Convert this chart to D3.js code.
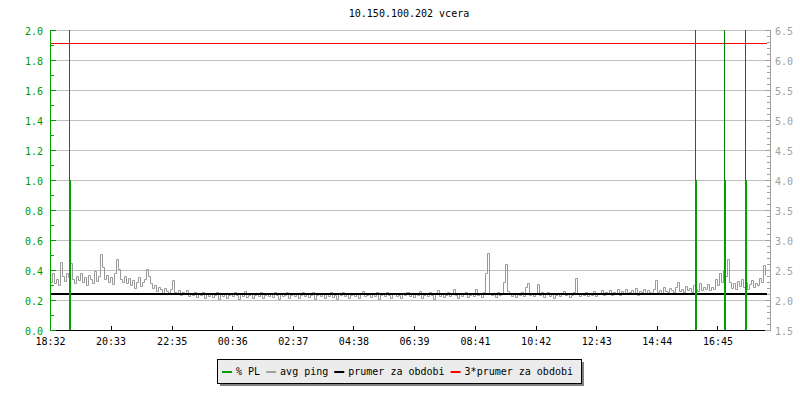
<!DOCTYPE html>
<html>
<head>
<meta charset="utf-8">
<script src="https://cdn.jsdelivr.net/npm/d3@7"></script>
<style>
  html, body { margin: 0; padding: 0; background: #ffffff; }
  svg { display: block; }
  text { font-family: "DejaVu Sans Mono", monospace; font-size: 10px; }
</style>
</head>
<body>
<svg id="chart" width="800" height="400"></svg>
<script>
// ---------------- DATA ----------------
const chartTitle = "10.150.100.202 vcera";
// x axis: minutes since 18:32 and their labels
const xTickMinutes = [0, 121, 243, 364, 485, 606, 727, 849, 970, 1091, 1212, 1333];
const xTickLabels = ["18:32","20:33","22:35","00:36","02:37","04:38","06:39","08:41","10:42","12:43","14:44","16:45"];
const timeSpanMin = 1430;
// left axis (% PL)
const leftTicks = [0.0, 0.2, 0.4, 0.6, 0.8, 1.0, 1.2, 1.4, 1.6, 1.8, 2.0];
// right axis (ping, ms)
const rightTicks = [1.5, 2.0, 2.5, 3.0, 3.5, 4.0, 4.5, 5.0, 5.5, 6.0, 6.5];
// avg ping samples (ms), one every 4 minutes from 18:32
const pingStepMin = 4;
const pingValues = [
  2.30,2.45,2.28,2.35,2.25,2.63,2.40,2.32,2.45,2.38,
  2.62,2.35,2.28,2.40,2.33,2.45,2.30,2.38,2.25,2.42,
  2.35,2.28,2.48,2.32,2.40,2.77,2.55,2.35,2.42,2.30,
  2.38,2.26,2.45,2.68,2.52,2.35,2.30,2.40,2.28,2.36,
  2.25,2.33,2.20,2.30,2.38,2.24,2.30,2.35,2.52,2.40,
  2.28,2.20,2.25,2.15,2.22,2.18,2.12,2.20,2.15,2.10,
  2.18,2.33,2.14,2.10,2.16,2.08,2.13,2.10,2.17,2.06,
  2.12,2.09,2.14,2.05,2.11,2.08,2.13,2.03,2.10,2.07,
  2.12,2.05,2.09,2.14,2.02,2.10,2.07,2.12,2.04,2.09,
  2.11,2.06,2.13,2.08,2.01,2.10,2.07,2.15,2.05,2.09,
  2.12,2.04,2.08,2.11,2.06,2.14,2.03,2.09,2.12,2.07,
  2.10,2.05,2.13,2.08,2.02,2.11,2.06,2.09,2.14,2.04,
  2.08,2.12,2.06,2.10,2.03,2.09,2.13,2.07,2.11,2.05,
  2.09,2.14,2.02,2.08,2.11,2.06,2.12,2.04,2.10,2.07,
  2.13,2.05,2.09,2.01,2.11,2.08,2.14,2.06,2.10,2.03,
  2.09,2.12,2.07,2.11,2.04,2.10,2.15,2.06,2.08,2.12,
  2.05,2.10,2.07,2.13,2.02,2.09,2.11,2.06,2.14,2.08,
  2.04,2.10,2.12,2.07,2.09,2.03,2.11,2.08,2.13,2.06,
  2.10,2.05,2.12,2.08,2.15,2.04,2.09,2.11,2.06,2.13,
  2.08,2.02,2.10,2.17,2.07,2.11,2.05,2.09,2.13,2.06,
  2.10,2.19,2.08,2.04,2.12,2.07,2.10,2.14,2.05,2.09,
  2.12,2.06,2.18,2.08,2.11,2.05,2.13,2.45,2.79,2.12,
  2.08,2.11,2.05,2.14,2.09,2.12,2.30,2.60,2.15,2.10,
  2.07,2.12,2.05,2.10,2.08,2.13,2.06,2.22,2.28,2.09,
  2.11,2.06,2.12,2.27,2.08,2.14,2.05,2.10,2.13,2.07,
  2.11,2.04,2.09,2.12,2.06,2.10,2.15,2.08,2.12,2.05,
  2.09,2.13,2.37,2.10,2.06,2.12,2.08,2.14,2.07,2.11,
  2.09,2.15,2.06,2.12,2.10,2.16,2.08,2.13,2.11,2.17,
  2.09,2.14,2.12,2.18,2.08,2.15,2.11,2.19,2.10,2.14,
  2.16,2.12,2.20,2.09,2.15,2.13,2.18,2.11,2.17,2.14,
  2.12,2.19,2.33,2.14,2.17,2.11,2.22,2.15,2.13,2.20,
  2.16,2.14,2.21,2.30,2.15,2.18,2.13,2.23,2.16,2.20,
  2.14,2.25,2.18,2.15,2.28,2.17,2.22,2.19,2.26,2.16,
  2.21,2.18,2.35,2.25,2.45,2.30,2.50,2.40,2.68,2.30,
  2.20,2.28,2.18,2.32,2.24,2.35,2.22,2.30,2.19,2.27,
  2.33,2.21,2.29,2.25,2.36,2.30,2.58,2.42
];
// packet loss events (minutes since 18:32, % PL)
const plTimes = [40, 1290, 1348, 1390];
const plValues = [1.0, 1.0, 1.0, 1.0];
// average ping over the period (ms)
const avgPing = 2.097;
const legendLabels = ["% PL", "avg ping", "prumer za obdobi", "3*prumer za obdobi"];
const legendColors = ["#00a000", "#a0a0a0", "#000000", "#ff0000"];

// ---------------- LAYOUT ----------------
const plotL = 50, plotR = 766, plotT = 30, plotB = 330;
const svg = d3.select("#chart");

const x = d3.scaleLinear().domain([0, timeSpanMin]).range([plotL + 0.5, plotR + 0.5]);
const yL = d3.scaleLinear().domain([0, 2]).range([plotB + 0.5, plotT + 0.5]);
const yR = d3.scaleLinear().domain([1.5, 6.5]).range([plotB + 0.5, plotT + 0.5]);
const px = v => Math.floor(v);   // pixel row/column of a scaled value

// clip
svg.append("defs").append("clipPath").attr("id", "clip")
  .append("rect").attr("x", plotL).attr("y", plotT - 2).attr("width", plotR - plotL + 1).attr("height", plotB - plotT + 4);

// title
svg.append("text").attr("x", 409).attr("y", 17).attr("text-anchor", "middle")
  .attr("fill", "#000").text(chartTitle);

// gridlines
svg.append("g").selectAll("rect").data(leftTicks.filter(d => d > 0)).join("rect")
  .attr("x", plotL).attr("width", plotR - plotL)
  .attr("y", d => px(yL(d))).attr("height", 1)
  .attr("fill", "#c0c0c0");

const plot = svg.append("g").attr("clip-path", "url(#clip)");

// avg ping line (right axis)
const pingData = pingValues.map((v, i) => ({ t: i * pingStepMin, v }));
plot.append("path").datum(pingData)
  .attr("fill", "none").attr("stroke", "#999999").attr("stroke-width", 1)
  .attr("d", d3.line().x(d => Math.round(x(d.t) - 0.5) + 0.5).y(d => Math.round(yR(d.v) - 0.5) + 0.5).curve(d3.curveStepAfter));

// average line
plot.append("rect").attr("x", plotL).attr("width", plotR - plotL + 1)
  .attr("y", px(yR(avgPing)) - 1).attr("height", 2)
  .attr("fill", "#000");

// 3 * average line
plot.append("rect").attr("x", plotL).attr("width", plotR - plotL + 1)
  .attr("y", px(yR(3 * avgPing))).attr("height", 1)
  .attr("fill", "#ff0000");

// packet loss events
const plData = plTimes.map((t, i) => ({ t, v: plValues[i] }));
plot.append("g").selectAll("rect").data(plData).join("rect")
  .attr("x", d => px(x(d.t)) - 1).attr("width", 1)
  .attr("y", plotT).attr("height", d => px(yL(d.v)) - plotT)
  .attr("fill", "#008000");
plot.append("g").selectAll("rect").data(plData).join("rect")
  .attr("x", d => px(x(d.t)) - 1).attr("width", 2)
  .attr("y", d => px(yL(d.v))).attr("height", d => px(yL(0)) - px(yL(d.v)))
  .attr("fill", "#00a000");

// x axis
const gx = svg.append("g");
gx.append("rect").attr("x", plotL).attr("width", plotR - plotL).attr("y", plotB).attr("height", 1).attr("fill", "#000");
gx.selectAll("rect.tick").data(xTickMinutes).join("rect").attr("class", "tick")
  .attr("x", d => px(x(d))).attr("width", 1)
  .attr("y", plotB - 4).attr("height", 4)
  .attr("fill", "#000");
gx.selectAll("text").data(xTickMinutes).join("text")
  .attr("x", d => x(d)).attr("y", 345).attr("text-anchor", "middle").attr("fill", "#000")
  .text((d, i) => xTickLabels[i]);

// left axis
const gl = svg.append("g");
const leftMinor = d3.range(0, 21).map(i => i / 10);
gl.append("rect").attr("x", plotL).attr("width", 1).attr("y", plotT).attr("height", plotB - plotT + 1)
  .attr("fill", "#00a000");
gl.selectAll("rect.tick").data(leftMinor).join("rect").attr("class", "tick")
  .attr("x", plotL).attr("width", (d, i) => (i % 2 === 0 ? 6 : 4))
  .attr("y", d => px(yL(d))).attr("height", 1)
  .attr("fill", "#00a000");
gl.selectAll("text").data(leftTicks).join("text")
  .attr("x", 43).attr("y", d => yL(d) + 4).attr("text-anchor", "end").attr("fill", "#009900")
  .text(d => d.toFixed(1));

// right axis
const gr = svg.append("g");
const rightMinor = d3.range(15, 66).map(i => i / 10);
const axR = 770;
gr.append("rect").attr("x", axR).attr("width", 1).attr("y", plotT).attr("height", plotB - plotT + 1)
  .attr("fill", "#a0a0a0");
gr.selectAll("rect.tick").data(rightMinor).join("rect").attr("class", "tick")
  .attr("x", (d, i) => axR - (i % 5 === 0 ? 5 : 3)).attr("width", (d, i) => (i % 5 === 0 ? 5 : 3))
  .attr("y", d => px(yR(d))).attr("height", 1)
  .attr("fill", "#a0a0a0");
gr.selectAll("text").data(rightTicks).join("text")
  .attr("x", 775).attr("y", d => yR(d) + 4).attr("text-anchor", "start").attr("fill", "#a0a0a0")
  .text(d => d.toFixed(1));

// legend
const lg = svg.append("g");
const legX = 217, legY = 359, legW = 364, legH = 24;
lg.append("rect").attr("x", legX + 3).attr("y", legY + 3).attr("width", legW).attr("height", legH)
  .attr("fill", "#808080");
lg.append("rect").attr("x", legX + 0.5).attr("y", legY + 0.5).attr("width", legW).attr("height", legH)
  .attr("fill", "#ececec").attr("stroke", "#000").attr("shape-rendering", "crispEdges");
let cx = 222;
legendLabels.forEach((lab, i) => {
  lg.append("rect").attr("x", cx).attr("y", 371).attr("width", 10).attr("height", 2)
    .attr("fill", legendColors[i]);
  const t = lg.append("text").attr("x", cx + 14).attr("y", 375).attr("fill", "#000").text(lab);
  const w = t.node().getComputedTextLength();
  cx = cx + 14 + w + 6;
});
</script>
</body>
</html>
